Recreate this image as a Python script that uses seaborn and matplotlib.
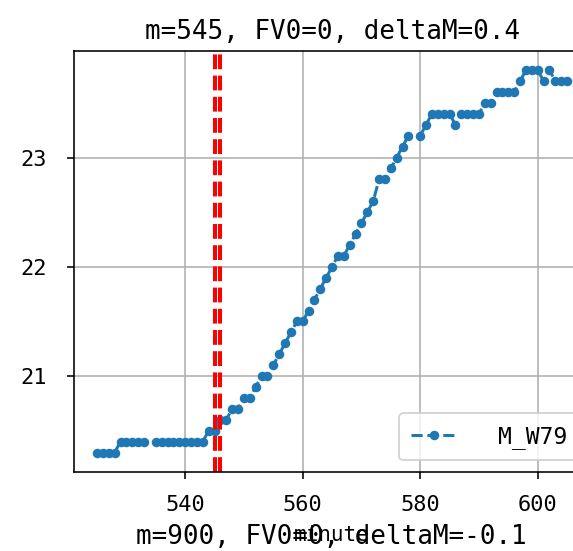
import numpy as np
import pandas as pd
import matplotlib
matplotlib.use("Agg")
import matplotlib.pyplot as plt
from matplotlib.ticker import MultipleLocator
import seaborn as sns

# data (minute 534 and 579 are missing)
minutes = [525, 526, 527, 528, 529, 530, 531, 532, 533,
           535, 536, 537, 538, 539, 540, 541, 542, 543, 544, 545,
           546, 547, 548, 549, 550, 551, 552, 553, 554, 555,
           556, 557, 558, 559, 560, 561, 562, 563, 564, 565,
           566, 567, 568, 569, 570, 571, 572, 573, 574, 575,
           576, 577, 578,
           580, 581, 582, 583, 584, 585, 586, 587, 588, 589, 590,
           591, 592, 593, 594, 595, 596, 597, 598, 599, 600,
           601, 602, 603, 604, 605]
m_w79 = [20.3, 20.3, 20.3, 20.3, 20.4, 20.4, 20.4, 20.4, 20.4,
         20.4, 20.4, 20.4, 20.4, 20.4, 20.4, 20.4, 20.4, 20.4, 20.5, 20.5,
         20.6, 20.6, 20.7, 20.7, 20.8, 20.8, 20.9, 21.0, 21.0, 21.1,
         21.2, 21.3, 21.4, 21.5, 21.5, 21.6, 21.7, 21.8, 21.9, 22.0,
         22.1, 22.1, 22.2, 22.3, 22.4, 22.5, 22.6, 22.8, 22.8, 22.9,
         23.0, 23.1, 23.2,
         23.2, 23.3, 23.4, 23.4, 23.4, 23.4, 23.3, 23.4, 23.4, 23.4, 23.4,
         23.5, 23.5, 23.6, 23.6, 23.6, 23.6, 23.7, 23.8, 23.8, 23.8,
         23.7, 23.8, 23.7, 23.7, 23.7]
segment = [0] * 9 + [1] * 44 + [2] * 26
markers_at = [545, 546]

title_top = "m=545, FV0=0, deltaM=0.4"
title_next = "m=900, FV0=0, deltaM=-0.1"
series_name = "M_W79"

df = pd.DataFrame({"minute": minutes, series_name: m_w79, "seg": segment})

plt.rcParams["font.family"] = ["DejaVu Sans Mono"]
plt.rcParams["xtick.major.pad"] = 8
plt.rcParams["ytick.major.pad"] = 10

fig = plt.figure(figsize=(573 / 144, 551 / 144), dpi=144)
ax = fig.add_axes([73.5 / 573, 1 - 471.7 / 551, (590.6 - 73.5) / 573, (471.7 - 51) / 551])

sns.lineplot(data=df, x="minute", y=series_name, units="seg", estimator=None,
             ax=ax, color="#1f77b4", linestyle="--", marker=".",
             markersize=7.5, mec="#1f77b4", mew=1, lw=1.5, label=series_name)

for m in markers_at:
    ax.axvline(m, color="red", linestyle="--", lw=2)

ax.yaxis.set_major_locator(MultipleLocator(1))
ax.grid(True, color="#b0b0b0", lw=0.8)
ax.set_axisbelow(True)
ax.set_title(title_top, fontsize=13)
ax.set_xlabel("minute", fontsize=10.5, labelpad=5)
ax.set_ylabel("")
ax.tick_params(labelsize=11)

handles, labels = ax.get_legend_handles_labels()
ax.legend(handles[:1], labels[:1], loc="lower right", fontsize=11.5,
          handletextpad=1.8, borderpad=0.5)

fig.text(331.5 / 573, 1 - 544 / 551, title_next, ha="center", va="baseline",
         fontsize=13)

fig.savefig("out.png", dpi=144)
